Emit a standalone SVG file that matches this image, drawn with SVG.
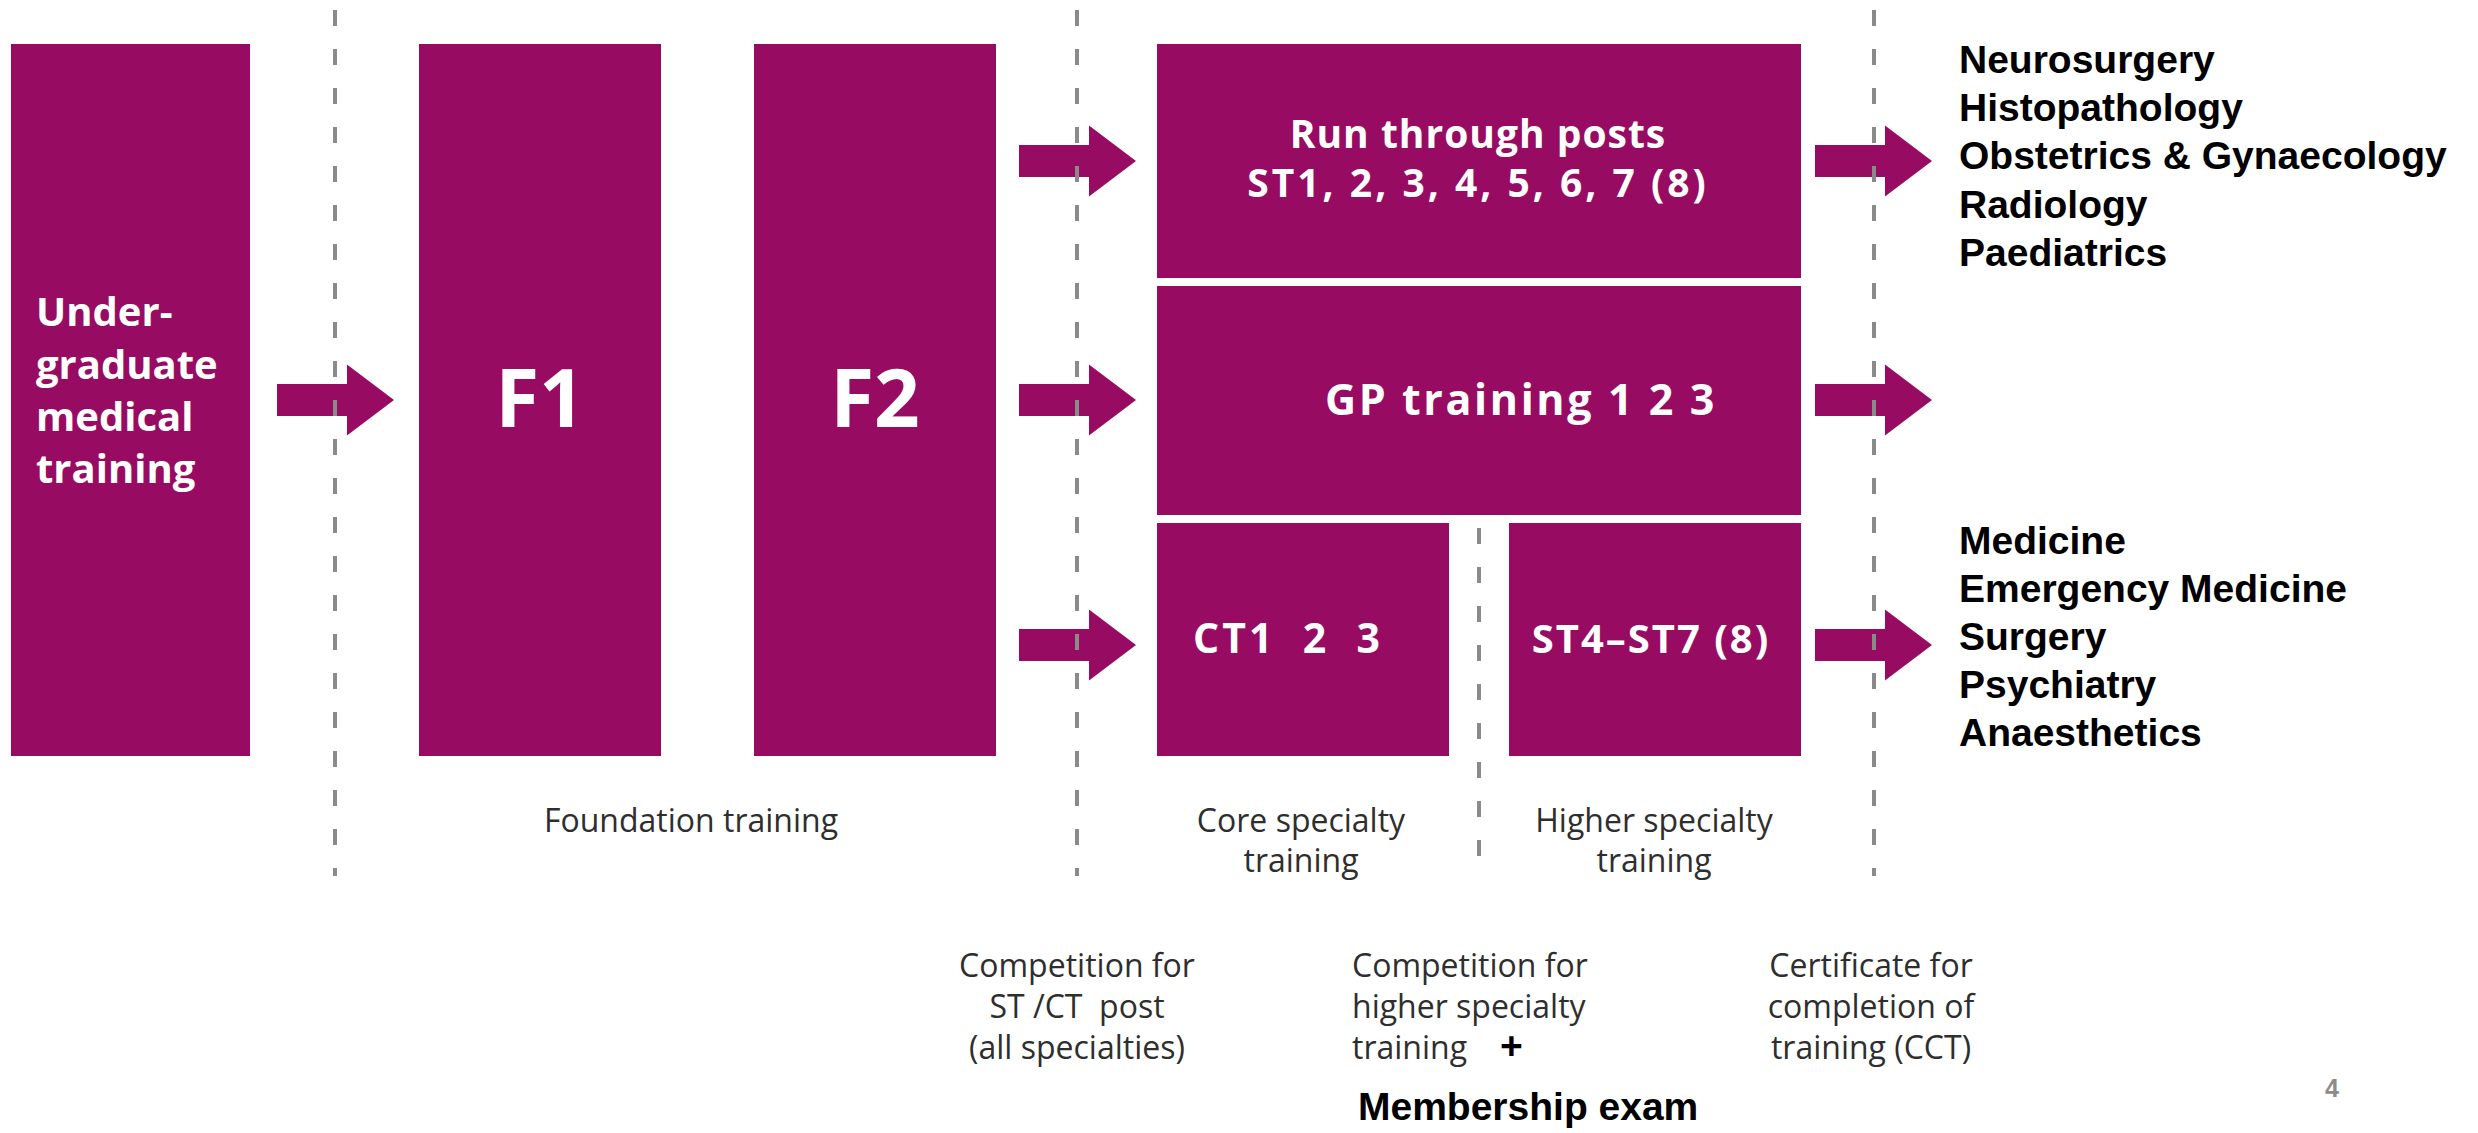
<svg xmlns="http://www.w3.org/2000/svg" width="2478" height="1133" viewBox="0 0 2478 1133">
<defs>
<style>
.box{fill:#980b62}
.wt{fill:#ffffff;font-family:"Open Sans","Noto Sans",sans-serif;font-weight:700}
.lbl{fill:#2e2e2e;font-family:"Open Sans","Noto Sans",sans-serif;font-size:32px}
.blk{fill:#000000;font-family:"Liberation Sans",Arial,sans-serif;font-weight:700;font-size:39px}
.arrow{fill:#980b62}
.dash{stroke:#8a8a8a;stroke-width:4;stroke-dasharray:16 23;fill:none}
</style>
<path id="arr" d="M0,-16 H70 V-35.5 L117,0 L70,35.5 V16 H0 Z"/>
</defs>
<rect width="2478" height="1133" fill="#ffffff"/>

<g id="node-undergrad">
<rect class="box" x="11" y="44" width="239" height="712"/>
<text class="wt" font-size="40" x="36" y="326">Under-</text>
<text class="wt" font-size="40" x="36" y="379">graduate</text>
<text class="wt" font-size="40" x="36" y="431">medical</text>
<text class="wt" font-size="40" x="36" y="483">training</text>
</g>
<g id="node-f1">
<rect class="box" x="419" y="44" width="242" height="712"/>
<text class="wt" font-size="80" x="540" y="427" text-anchor="middle">F1</text>
</g>
<g id="node-f2">
<rect class="box" x="754" y="44" width="242" height="712"/>
<text class="wt" font-size="80" x="875" y="427" text-anchor="middle">F2</text>
</g>
<g id="node-runthrough">
<rect class="box" x="1157" y="44" width="644" height="234"/>
<text class="wt" font-size="39" x="1478" y="148" text-anchor="middle" letter-spacing="1">Run through posts</text>
<text class="wt" font-size="39" x="1478" y="197" text-anchor="middle" letter-spacing="3">ST1, 2, 3, 4, 5, 6, 7 (8)</text>
</g>
<g id="node-gp">
<rect class="box" x="1157" y="286" width="644" height="229"/>
<text class="wt" font-size="43" x="1521" y="415" text-anchor="middle" letter-spacing="2.6">GP training 1 2 3</text>
</g>
<g id="node-ct">
<rect class="box" x="1157" y="523" width="292" height="233"/>
<text class="wt" font-size="41" x="1288" y="653" text-anchor="middle" letter-spacing="3" xml:space="preserve">CT1  2  3</text>
</g>
<g id="node-st4">
<rect class="box" x="1509" y="523" width="292" height="233"/>
<text class="wt" font-size="40" x="1651" y="653" text-anchor="middle" letter-spacing="2">ST4–ST7 (8)</text>
</g>

<g id="connectors">
<use href="#arr" class="arrow" x="277" y="400"/>
<use href="#arr" class="arrow" x="1019" y="161"/>
<use href="#arr" class="arrow" x="1019" y="400"/>
<use href="#arr" class="arrow" x="1019" y="645"/>
<use href="#arr" class="arrow" x="1815" y="161"/>
<use href="#arr" class="arrow" x="1815" y="400"/>
<use href="#arr" class="arrow" x="1815" y="645"/>
</g>

<g id="guides">
<line class="dash" x1="335" y1="10" x2="335" y2="876"/>
<line class="dash" x1="1077" y1="10" x2="1077" y2="876"/>
<line class="dash" x1="1874" y1="10" x2="1874" y2="876"/>
<line class="dash" x1="1479" y1="528" x2="1479" y2="876"/>
</g>

<g id="node-specialties-top">
<text class="blk" x="1959" y="73">Neurosurgery</text>
<text class="blk" x="1959" y="121">Histopathology</text>
<text class="blk" x="1959" y="169">Obstetrics &amp; Gynaecology</text>
<text class="blk" x="1959" y="218">Radiology</text>
<text class="blk" x="1959" y="266">Paediatrics</text>
</g>
<g id="node-specialties-bottom">
<text class="blk" x="1959" y="554">Medicine</text>
<text class="blk" x="1959" y="602">Emergency Medicine</text>
<text class="blk" x="1959" y="650">Surgery</text>
<text class="blk" x="1959" y="698">Psychiatry</text>
<text class="blk" x="1959" y="746">Anaesthetics</text>
</g>

<g id="node-phase-labels">
<text class="lbl" x="691" y="832" text-anchor="middle">Foundation training</text>
<text class="lbl" x="1301" y="832" text-anchor="middle">Core specialty</text>
<text class="lbl" x="1301" y="872" text-anchor="middle">training</text>
<text class="lbl" x="1654" y="832" text-anchor="middle">Higher specialty</text>
<text class="lbl" x="1654" y="872" text-anchor="middle">training</text>
</g>
<g id="node-milestone-1">
<text class="lbl" x="1077" y="977" text-anchor="middle">Competition for</text>
<text class="lbl" x="1077" y="1018" text-anchor="middle" xml:space="preserve">ST /CT  post</text>
<text class="lbl" x="1077" y="1059" text-anchor="middle">(all specialties)</text>
</g>
<g id="node-milestone-2">
<text class="lbl" x="1352" y="977">Competition for</text>
<text class="lbl" x="1352" y="1018">higher specialty</text>
<text class="lbl" x="1352" y="1059">training</text>
<text class="blk" x="1500" y="1059" font-size="34">+</text>
<text class="blk" x="1358" y="1120">Membership exam</text>
</g>
<g id="node-milestone-3">
<text class="lbl" x="1871" y="977" text-anchor="middle">Certificate for</text>
<text class="lbl" x="1871" y="1018" text-anchor="middle">completion of</text>
<text class="lbl" x="1871" y="1059" text-anchor="middle">training (CCT)</text>
</g>
<g id="page-number">
<text x="2332" y="1097" text-anchor="middle" font-family="Liberation Sans, Arial, sans-serif" font-weight="700" font-size="25" fill="#8c8c8c">4</text>
</g>
</svg>
